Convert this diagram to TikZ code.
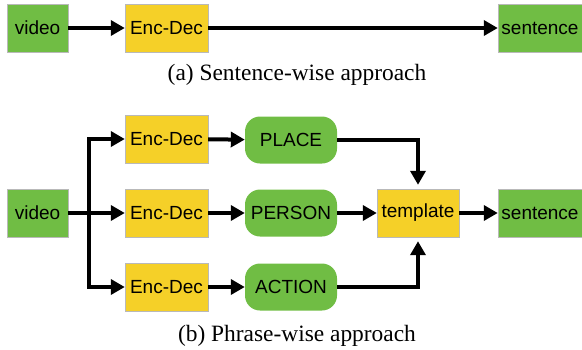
\documentclass[tikz,border=0pt]{standalone}
\usepackage{fontspec}
\setmainfont{Liberation Serif}
\setsansfont{Liberation Sans}
\usetikzlibrary{arrows.meta}
\definecolor{boxgreen}{RGB}{112,189,68}
\definecolor{boxyellow}{RGB}{245,208,40}
\definecolor{boxedge}{RGB}{185,185,185}
\tikzset{
  greenbox/.style={draw=boxedge, fill=boxgreen, minimum height=48pt, inner sep=0pt, font=\sffamily\fontsize{19}{19}\selectfont},
  yellowbox/.style={draw=boxedge, fill=boxyellow, minimum height=48pt, inner sep=0pt, font=\sffamily\fontsize{19}{19}\selectfont},
  phrase/.style={fill=boxgreen, rounded corners=15pt, minimum width=92pt, minimum height=47pt, inner sep=0pt, font=\sffamily\fontsize{19}{19}\selectfont},
  arr/.style={line width=4pt, -{Triangle[length=14pt,width=15pt]}},
  caption/.style={anchor=base, font=\fontsize{23.4}{23.4}\selectfont}
}
\begin{document}
\begin{tikzpicture}[x=1pt, y=-1pt]
\useasboundingbox (0,0) rectangle (582,349);
% (a) sentence-wise
\node[greenbox, minimum width=61pt] (v1) at (37.5,28) {video};
\node[yellowbox, minimum width=83pt] (e1) at (166.5,28) {Enc-Dec};
\node[greenbox, minimum width=84pt] (s1) at (540,28) {sentence};
\path[draw,arr] (v1) -- (e1);
\path[draw,arr] (e1) -- (s1);
\node[caption] (ca) at (297,80) {(a) Sentence-wise approach};
% (b) phrase-wise
\node[greenbox, minimum width=61pt] (v2) at (37.5,213) {video};
\node[yellowbox, minimum width=83pt] (e2) at (166.5,139) {Enc-Dec};
\node[yellowbox, minimum width=83pt] (e3) at (166.5,213) {Enc-Dec};
\node[yellowbox, minimum width=83pt] (e4) at (166.5,287) {Enc-Dec};
\node[phrase] (place) at (291,140) {PLACE};
\node[phrase] (person) at (291,213) {PERSON};
\node[phrase] (action) at (291,287) {ACTION};
\node[yellowbox, minimum width=82pt] (tpl) at (418,213) {template};
\node[greenbox, minimum width=84pt] (s2) at (540,213) {sentence};
\coordinate (br) at (89,213);
\path[draw,line width=4pt] (v2) -- (br);
\path[draw,arr] (br) -- (e3);
\path[draw,arr] ([yshift=-2pt]br) |- (e2);
\path[draw,arr] ([yshift=2pt]br) |- (e4);
\path[draw,arr] (e2) -- (place);
\path[draw,arr] (e3) -- (person);
\path[draw,arr] (e4) -- (action);
\path[draw,arr,shorten >=4pt] (place) -| (tpl);
\path[draw,arr] (person) -- (tpl);
\path[draw,arr,shorten >=4pt] (action) -| (tpl);
\path[draw,arr] (tpl) -- (s2);
\node[caption] (cb) at (297,341) {(b) Phrase-wise approach};
\end{tikzpicture}
\end{document}
